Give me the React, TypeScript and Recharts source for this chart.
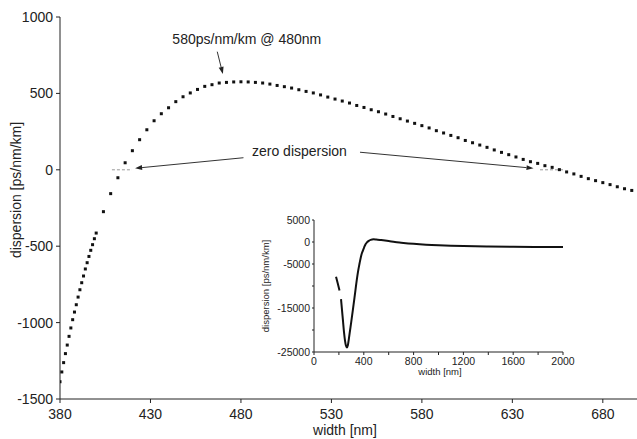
import React from "react";
import { ComposedChart, LineChart, Line, Scatter, XAxis, YAxis, ReferenceLine, ReferenceDot } from "recharts";

// main curve, fine sampling at the short-wavelength end
const nearWidths = [380, 381, 382, 383, 384, 385, 386, 387, 388, 389, 390, 391, 392, 393, 394, 395, 396, 397, 398, 399, 400];
const nearDispersion = [-1387, -1323, -1262, -1203, -1147, -1090, -1035, -981, -931, -883, -833, -785, -739, -695, -649, -608, -567, -527, -490, -451, -414];

// main curve, coarse sampling
const farWidths = [
  404, 408, 412, 416, 420, 424, 428, 432, 436, 440, 444, 448, 452, 456, 460, 464, 468, 472, 476, 480,
  484, 488, 492, 496, 500, 504, 508, 512, 516, 520, 524, 528, 532, 536, 540, 544, 548, 552, 556, 560,
  564, 568, 572, 576, 580, 584, 588, 592, 596, 600, 604, 608, 612, 616, 620, 624, 628, 632, 636, 640,
  644, 648, 652, 656, 660, 664, 668, 672, 676, 680, 684, 688, 692, 696, 700,
];
const farDispersion = [
  -274, -156, -52, 46, 125, 197, 262, 321, 367, 406, 446, 478, 503, 526, 546, 557, 568, 572, 575, 576,
  575, 572, 568, 561, 552, 544, 535, 524, 513, 503, 490, 476, 463, 450, 437, 421, 408, 393, 380, 365,
  349, 334, 319, 304, 289, 274, 256, 241, 225, 210, 192, 177, 162, 147, 130, 114, 99, 84, 68, 53,
  42, 27, 16, 1, -14, -27, -43, -58, -71, -84, -97, -111, -124, -135, -145,
];

const mainXTicks = [380, 430, 480, 530, 580, 630, 680];
const mainYTicks = [-1500, -1000, -500, 0, 500, 1000];

// inset: full range
const insetWidths = [
  177, 190, 205, 212, 217, 225, 233, 241, 249, 257, 264, 272, 280, 290, 300, 312, 325, 338, 352, 365,
  380, 392, 403, 414, 425, 440, 455, 478, 500, 540, 600, 650, 700, 800, 900, 1000, 1100, 1200, 1400, 1600,
  1800, 2000,
];
const insetDispersion = [
  -7900, -9300, -11000, null, -13000, -15500, -18000, -20500, -22400, -23600, -24000, -23500, -22000, -20000, -18000, -15500, -12700, -9800, -7000, -5000,
  -3000, -2000, -1200, -500, -100, 250, 480, 600, 560, 430, 210, 0, -150, -420, -620, -760, -860, -930, -1020, -1080,
  -1120, -1150,
];
const insetXTicks = [0, 200, 400, 600, 800, 1000, 1200, 1400, 1600, 1800, 2000];
const insetXLabels = [0, 400, 800, 1200, 1600, 2000];
const insetYTicks = [-25000, -20000, -15000, -10000, -5000, 0, 5000];
const insetYLabels = [-25000, -15000, -5000, 0, 5000];

const FONT = '"Liberation Sans", Arial, Helvetica, sans-serif';
const INK = "#222";

const points = [
  ...nearWidths.map((w, i) => ({ width: w, dispersion: nearDispersion[i] })),
  ...farWidths.map((w, i) => ({ width: w, dispersion: farDispersion[i] })),
];
const insetData = insetWidths.map((w, i) => ({ width: w, dispersion: insetDispersion[i] }));

const SquareDot = (props: any) => {
  const { cx, cy } = props;
  if (cx == null || cy == null) return <g />;
  return <rect x={cx - 1.5} y={cy - 1.5} width={3} height={3} fill="#111" />;
};

const Arrow = (props: any) => {
  const { x1, y1, x2, y2 } = props;
  const a = Math.atan2(y2 - y1, x2 - x1);
  const len = 7, half = 2.5;
  const bx = x2 - len * Math.cos(a), by = y2 - len * Math.sin(a);
  const px = half * Math.sin(a), py = half * Math.cos(a);
  return (
    <g>
      <line x1={x1} y1={y1} x2={bx} y2={by} stroke="#333" strokeWidth={1} />
      <polygon points={`${x2},${y2} ${bx + px},${by - py} ${bx - px},${by + py}`} fill="#222" />
    </g>
  );
};

const note = (txt: string) => (props: any) => (
  <text x={props.cx} y={props.cy} fontFamily={FONT} fontSize={14} fill={INK}>{txt}</text>
);

const InsetXTick = (p: any) =>
  insetXLabels.includes(p.payload.value) ? (
    <text x={p.x} y={p.y} dy="0.71em" textAnchor="middle" fontFamily={FONT} fontSize={10.5} fill={INK}>{p.payload.value}</text>
  ) : <g />;

const InsetYTick = (p: any) =>
  insetYLabels.includes(p.payload.value) ? (
    <text x={p.x} y={p.y} dy="0.355em" textAnchor="end" fontFamily={FONT} fontSize={10.5} fill={INK}>{p.payload.value}</text>
  ) : <g />;

const tickStyle = { fontFamily: FONT, fontSize: 14, fill: INK };

export default function App() {
  return (
    <div style={{ position: "absolute", left: 0, top: 0, width: 637, height: 439, overflow: "hidden", background: "#fff" }}>
      <ComposedChart width={639} height={439} data={points} margin={{ top: 17, right: 0, bottom: 0, left: 0 }}>
        <XAxis dataKey="width" type="number" domain={[380, 700]} ticks={mainXTicks} height={40}
               stroke={INK} tickSize={4} tickMargin={6} tick={tickStyle} allowDataOverflow />
        <YAxis dataKey="dispersion" type="number" domain={[-1500, 1000]} ticks={mainYTicks} width={60}
               stroke={INK} tickSize={4} tickMargin={3} tick={tickStyle} allowDataOverflow />
        <ReferenceLine segment={[{ x: 408.7, y: 0 }, { x: 419.8, y: 0 }]} stroke="#999" strokeDasharray="3 2" />
        <ReferenceLine segment={[{ x: 645.3, y: 0 }, { x: 659.1, y: 0 }]} stroke="#999" strokeDasharray="3 2" />
        <Scatter data={points} dataKey="dispersion" shape={SquareDot} isAnimationActive={false} />
        <ReferenceLine segment={[{ x: 466.9, y: 773 }, { x: 470, y: 627 }]} shape={Arrow} />
        <ReferenceLine segment={[{ x: 481.4, y: 79 }, { x: 421.5, y: 10 }]} shape={Arrow} />
        <ReferenceLine segment={[{ x: 545.8, y: 115 }, { x: 641.7, y: 10 }]} shape={Arrow} />
        <ReferenceDot x={442.1} y={822} r={0} shape={note("580ps/nm/km @ 480nm")} />
        <ReferenceDot x={486.1} y={90} r={0} shape={note("zero dispersion")} />
        <text x={345} y={435} textAnchor="middle" fontFamily={FONT} fontSize={14} fill={INK}>width [nm]</text>
        <text x={20.5} y={190} textAnchor="middle" transform="rotate(-90, 20.5, 190)" fontFamily={FONT} fontSize={14} fill={INK}>
          dispersion [ps/nm/km]
        </text>
      </ComposedChart>

      <div style={{ position: "absolute", left: 250, top: 210 }}>
        <LineChart width={330} height={175} data={insetData} margin={{ top: 10, right: 17, bottom: 0, left: 14 }}>
          <XAxis dataKey="width" type="number" domain={[0, 2000]} ticks={insetXTicks} height={33}
                 stroke={INK} tickSize={3} tickMargin={3} tick={InsetXTick} interval={0} />
          <YAxis type="number" domain={[-25000, 5000]} ticks={insetYTicks} width={50}
                 stroke={INK} tickSize={2} tickMargin={2} tick={InsetYTick} interval={0} />
          <Line dataKey="dispersion" stroke="#111" strokeWidth={2} dot={false} connectNulls={false}
                type="monotone" isAnimationActive={false} />
          <text x={190} y={165} textAnchor="middle" fontFamily={FONT} fontSize={9.5} fill={INK}>width [nm]</text>
          <text x={18.5} y={76} textAnchor="middle" transform="rotate(-90, 18.5, 76)" fontFamily={FONT} fontSize={9.5} fill={INK}>
            dispersion [ps/nm/km]
          </text>
        </LineChart>
      </div>
    </div>
  );
}
